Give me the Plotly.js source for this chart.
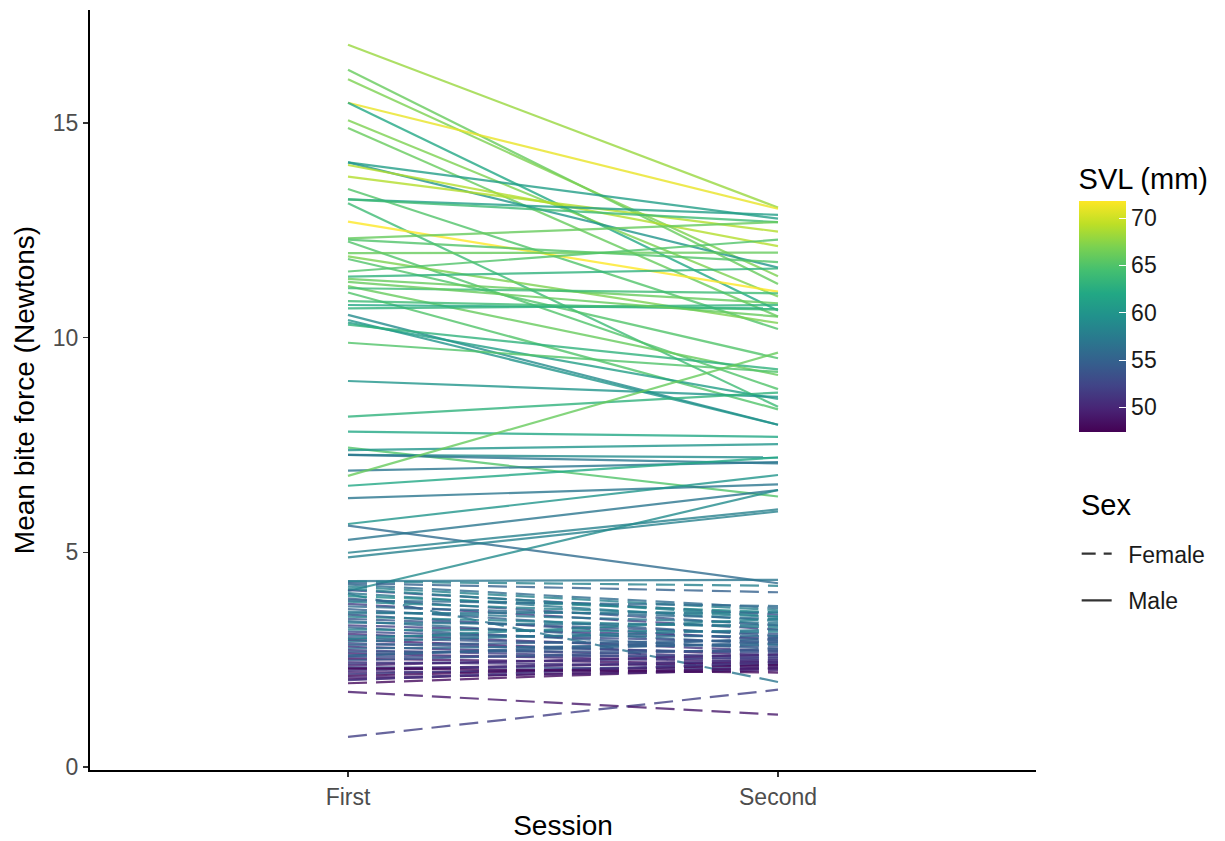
<!DOCTYPE html>
<html>
<head>
<meta charset="utf-8">
<script src="https://cdn.plot.ly/plotly-3.0.1.min.js"></script>
<style>html,body{margin:0;padding:0;background:#fff;}#chart{width:1225px;height:841px;}</style>
</head>
<body>
<div id="chart"></div>
<script>
// ---- data ----
var sessions = ['First', 'Second'];

var maleFirst  = [16.82,16.24,16.02,15.47,15.47,15.06,14.88,14.08,14.08,14.02,13.75,13.46,13.22,13.22,13.13,12.70,12.31,12.28,12.24,11.97,11.89,11.83,11.54,11.42,11.37,11.20,11.15,11.05,10.76,10.68,10.53,10.41,10.35,10.30,9.88,8.99,8.16,7.81,7.44,7.38,7.27,7.27,6.90,6.78,6.55,6.26,5.66,5.62,5.29,4.99,4.88,4.10,4.33,10.85,11.30];
var maleSecond = [13.03,11.25,11.43,13.00,10.63,10.96,10.49,12.77,11.63,12.13,12.47,10.20,12.86,12.69,8.39,11.07,12.69,11.76,8.80,11.98,10.34,9.52,12.28,11.61,10.80,9.13,11.03,8.33,10.68,10.76,7.97,7.97,8.57,9.26,9.20,8.62,8.72,7.69,6.30,7.52,7.21,7.07,7.10,9.65,7.21,6.58,6.80,4.28,6.45,6.00,5.95,6.45,4.36,10.65,10.49];
var maleSVL    = [68,66,67,71,62,67,66,61,60,69,69,65,61,64,64,72,66,65,65,66,67,65,65,63,66,66,64,65,62,63,59,60,61,63,65,60,63,62,65,60,59,57,57,66,62,57,60,56,57,58,58,59,57,64,66];

var femaleFirst  = [0.70,1.75,1.95,4.03,4.32,4.28,4.25,4.20,4.12,4.05,3.98,3.92,3.85,3.80,3.74,3.68,3.62,3.55,3.50,3.45,3.40,3.36,3.30,3.25,3.20,3.15,3.10,3.05,3.00,2.96,2.92,2.88,2.84,2.80,2.76,2.72,2.68,2.64,2.60,2.56,2.52,2.48,2.44,2.40,2.36,2.32,2.28,2.24,2.20,2.16,2.12,2.08,2.04,2.02,3.58,3.88,2.98,2.58,4.15,2.30];
var femaleSecond = [1.80,1.22,2.30,1.98,4.22,4.07,3.70,3.65,3.55,3.40,3.60,3.30,3.50,3.20,3.45,3.05,3.35,2.95,3.25,3.10,2.85,3.30,3.00,2.75,3.15,2.90,2.70,3.05,2.80,2.60,3.20,2.65,2.95,2.55,2.85,2.50,2.70,2.45,2.90,2.60,2.40,2.75,2.35,2.55,2.62,2.30,2.45,2.50,2.28,2.40,2.38,2.25,2.32,2.45,3.60,3.75,3.45,3.00,3.50,2.20];
var femaleSVL    = [52,49,48,57,58,55,56,58,53,57,59,54,58,52,56,55,57,53,58,54,56,57,52,55,58,53,51,56,54,50,57,53,55,51,56,52,54,50,55,53,49,54,51,52,50,53,49,51,50,52,48,50,49,51,57,56,58,55,58,48];

var svlTicks = [50, 55, 60, 65, 70];
var sexLabels = ['Female', 'Male'];

// ---- colour scale ----
var svlMin = 47.4, svlMax = 71.8;
var viridis = ['#440154','#482475','#414487','#355f8d','#2a788e','#21918c','#22a884','#44bf70','#7ad151','#bddf26','#fde725'];
var colorscale = viridis.map(function(c, i){ return [i/(viridis.length-1), c]; });
function hexToRgb(h){ return [parseInt(h.substr(1,2),16), parseInt(h.substr(3,2),16), parseInt(h.substr(5,2),16)]; }
function svlColor(v){
  var t = (v - svlMin) / (svlMax - svlMin);
  t = Math.max(0, Math.min(1, t));
  var p = t * (viridis.length - 1);
  var i = Math.min(Math.floor(p), viridis.length - 2);
  var f = p - i;
  var a = hexToRgb(viridis[i]), b = hexToRgb(viridis[i+1]);
  var c = a.map(function(x, k){ return Math.round(x + (b[k]-x)*f); });
  return 'rgb(' + c.join(',') + ')';
}

var traces = [];
function addLines(first, second, svl, dash){
  for (var i = 0; i < first.length; i++){
    traces.push({
      type: 'scatter', mode: 'lines',
      x: sessions, y: [first[i], second[i]],
      line: {color: svlColor(svl[i]), width: 2.2, dash: dash},
      opacity: 0.8, showlegend: false, hoverinfo: 'skip'
    });
  }
}
addLines(maleFirst, maleSecond, maleSVL, 'solid');
addLines(femaleFirst, femaleSecond, femaleSVL, '19px,9px');

var font = 'Liberation Sans, Arial, sans-serif';

// colour bar (invisible marker trace)
traces.push({
  type: 'scatter', mode: 'markers', x: [sessions[0]], y: [null],
  showlegend: false, hoverinfo: 'skip',
  marker: {
    color: [svlMin], cmin: svlMin, cmax: svlMax, colorscale: colorscale, showscale: true,
    colorbar: {
      title: {text: 'SVL (mm)', side: 'top', font: {family: font, size: 29, color: '#000'}},
      x: 1.045, xanchor: 'left', xpad: 0,
      y: 0.4447, yanchor: 'bottom', ypad: 0,
      len: 268, lenmode: 'pixels', thickness: 47, thicknessmode: 'pixels',
      outlinewidth: 0,
      tickvals: svlTicks, ticks: 'inside', ticklen: 7, tickcolor: '#ffffff', tickwidth: 1,
      tickprefix: '\u2002\u2009',
      tickfont: {family: font, size: 23, color: '#1a1a1a'}
    }
  }
});

// Sex legend entries
traces.push({type:'scatter', mode:'lines', x:[null], y:[null], name:'\u2002' + sexLabels[0], showlegend:true,
  line:{color:'#333333', width:2.2, dash:'14px,8px'}, legendgroup:'f'});
traces.push({type:'scatter', mode:'lines', x:[null], y:[null], name:'\u2002' + sexLabels[1], showlegend:true,
  line:{color:'#333333', width:2.2, dash:'solid'}, legendgroup:'m'});

var layout = {
  width: 1225, height: 841,
  paper_bgcolor: '#ffffff', plot_bgcolor: '#ffffff',
  margin: {l: 90, r: 189, t: 10, b: 71, pad: 0},
  font: {family: font, color: '#000'},
  showlegend: true,
  hovermode: false,
  xaxis: {
    type: 'category', range: [-0.6, 1.6],
    showgrid: false, zeroline: false,
    showline: true, linecolor: '#000', linewidth: 2,
    ticks: 'outside', ticklen: 5, tickcolor: '#333', tickwidth: 1.5,
    tickfont: {family: font, size: 23, color: '#4d4d4d'},
    title: {text: 'Session', font: {family: font, size: 28, color: '#000'}, standoff: 8}
  },
  yaxis: {
    range: [-0.07, 17.63],
    tickvals: [0, 5, 10, 15],
    showgrid: false, zeroline: false,
    showline: true, linecolor: '#000', linewidth: 2,
    ticks: 'outside', ticklen: 5, tickcolor: '#333', tickwidth: 1.5,
    tickfont: {family: font, size: 23, color: '#4d4d4d'},
    title: {text: 'Mean bite force (Newtons)', font: {family: font, size: 28, color: '#000'}, standoff: 10}
  },
  legend: {
    x: 1.043, xanchor: 'left', y: 0.313, yanchor: 'top',
    font: {family: font, size: 23, color: '#1a1a1a'},
    bgcolor: 'rgba(0,0,0,0)', itemwidth: 30, tracegroupgap: 14
  },
  annotations: [{
    text: 'Sex', xref: 'paper', yref: 'paper', x: 1.045, y: 0.349,
    xanchor: 'left', yanchor: 'middle', showarrow: false,
    font: {family: font, size: 29, color: '#000'}
  }]
};

Plotly.newPlot('chart', traces, layout, {staticPlot: true, displayModeBar: false});
</script>
</body>
</html>
